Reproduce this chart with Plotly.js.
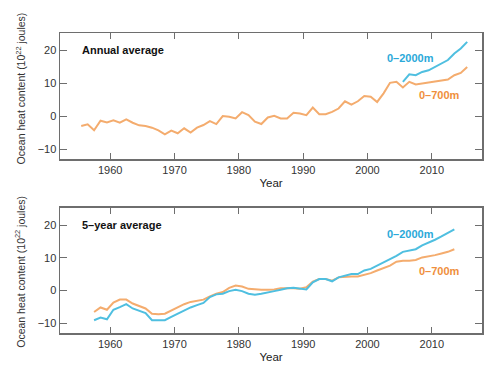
<!DOCTYPE html>
<html>
<head>
<meta charset="utf-8">
<script src="https://cdn.plot.ly/plotly-3.0.1.min.js"></script>
<style>html,body{margin:0;padding:0;background:#fff}#chart{width:500px;height:377px}</style>
</head>
<body>
<div id="chart"></div>
<script>
// ---- Data (10^22 joules) ----
var annualYears = [1955,1956,1957,1958,1959,1960,1961,1962,1963,1964,1965,1966,1967,1968,1969,1970,
  1971,1972,1973,1974,1975,1976,1977,1978,1979,1980,1981,1982,1983,1984,1985,1986,1987,1988,1989,1990,
  1991,1992,1993,1994,1995,1996,1997,1998,1999,2000,2001,2002,2003,2004,2005,2006,2007,2008,2009,2010,
  2011,2012,2013,2014,2015];
var annual700 = [-3.0,-2.5,-4.3,-1.4,-1.9,-1.3,-2.0,-1.0,-2.0,-2.8,-3.0,-3.5,-4.3,-5.5,-4.4,-5.2,
  -3.7,-5.0,-3.5,-2.7,-1.5,-2.4,0.0,-0.2,-0.7,1.2,0.3,-1.7,-2.4,-0.4,0.1,-0.7,-0.7,1.0,0.8,0.3,
  2.6,0.6,0.6,1.3,2.3,4.5,3.5,4.5,6.1,5.9,4.3,6.9,10.1,10.4,8.7,10.4,9.6,9.9,10.1,10.3,
  10.6,11.1,12.4,13.1,14.9];
var annual2000Years = [2005,2006,2007,2008,2009,2010,2011,2012,2013,2014,2015];
var annual2000 = [10.4,12.7,12.4,13.4,13.9,14.9,16.0,17.0,19.0,20.5,22.5];

var pentadYears = [1957,1958,1959,1960,1961,1962,1963,1964,1965,1966,1967,1968,1969,1970,
  1971,1972,1973,1974,1975,1976,1977,1978,1979,1980,1981,1982,1983,1984,1985,1986,1987,1988,1989,1990,
  1991,1992,1993,1994,1995,1996,1997,1998,1999,2000,2001,2002,2003,2004,2005,2006,2007,2008,2009,2010,
  2011,2012,2013];
var pentad700 = [-6.6,-5.2,-5.9,-3.7,-2.8,-2.8,-4.0,-4.7,-5.5,-7.1,-7.3,-7.1,-6.1,-5.1,
  -4.2,-3.5,-3.2,-2.8,-1.8,-1.0,-0.5,0.8,1.5,1.2,0.5,0.3,0.2,0.2,0.3,0.7,0.8,0.7,0.5,1.0,
  2.7,3.5,3.5,3.0,4.0,4.2,4.3,4.3,4.7,5.3,6.1,6.8,7.6,8.8,9.1,9.1,9.3,10.1,10.4,10.8,
  11.3,11.8,12.6];
var pentad2000 = [-9.1,-8.3,-8.8,-5.9,-5.1,-4.2,-5.5,-6.3,-6.9,-9.1,-9.1,-9.1,-8.1,-7.1,
  -6.3,-5.2,-4.5,-3.8,-2.0,-1.2,-1.0,-0.2,0.2,-0.2,-1.0,-1.3,-1.0,-0.7,-0.2,0.2,0.7,0.8,0.5,0.3,
  2.5,3.5,3.5,2.8,4.0,4.5,5.0,5.0,6.1,6.6,7.6,8.4,9.4,10.6,11.8,12.1,12.6,13.8,14.6,15.5,
  16.5,17.5,18.7];

var xTicks = [1960,1970,1980,1990,2000,2010];
var yTicks = [-10,0,10,20];
var panelTitles = ['Annual average','5\u2013year average'];
var seriesNames = ['0\u20132000m','0\u2013700m'];
var yTitle = 'Ocean heat content (10<sup>22</sup> joules)';
var xTitle = 'Year';

// values are plotted at mid-year
function mid(a){ return a.map(function(v){ return v + 0.5; }); }

var ORANGE = '#f4ac6e', BLUE = '#4fbfe0';
var ORANGE_T = '#ef8f3c', BLUE_T = '#2ba9d9';

var traces = [
  {x: mid(annualYears), y: annual700, xaxis:'x', yaxis:'y', type:'scatter', mode:'lines',
   line:{color:ORANGE, width:2}, name:seriesNames[1]},
  {x: mid(annual2000Years), y: annual2000, xaxis:'x', yaxis:'y', type:'scatter', mode:'lines',
   line:{color:BLUE, width:2}, name:seriesNames[0]},
  {x: mid(pentadYears), y: pentad700, xaxis:'x2', yaxis:'y2', type:'scatter', mode:'lines',
   line:{color:ORANGE, width:2}, name:seriesNames[1]},
  {x: mid(pentadYears), y: pentad2000, xaxis:'x2', yaxis:'y2', type:'scatter', mode:'lines',
   line:{color:BLUE, width:2}, name:seriesNames[0]}
];

var FONT = '"Liberation Sans", Arial, sans-serif';
var frame = '#6e6e6e';
function xax(anchor){
  return {anchor:anchor, range:[1952.2,2017.8], tickvals:xTicks, ticks:'inside', ticklen:6,
    tickcolor:frame, showline:true, linecolor:frame, linewidth:1.5, mirror:'ticks', showgrid:false,
    zeroline:false, tickfont:{size:11, color:'#333', family:FONT},
    title:{text:xTitle, font:{size:11.5, color:'#222', family:FONT}, standoff:4}};
}
function yax(anchor, dom){
  return {anchor:anchor, domain:dom, range:[-13,25.2], tickvals:yTicks, ticks:'inside', ticklen:7,
    tickcolor:frame, showline:true, linecolor:frame, linewidth:1.5, mirror:'ticks', showgrid:false,
    zeroline:false, tickfont:{size:11, color:'#333', family:FONT}};
}

var ann = [];
function lab(text, xr, yr, x, y, color, anchor, size, angle, xshift){
  ann.push({text:text, xref:xr, yref:yr, x:x, y:y, showarrow:false, xanchor:anchor||'center', yanchor:'middle',
    textangle: angle||0, xshift: xshift||0, font:{size:size||11, color:color, family:FONT}});
}
lab('<b>'+panelTitles[0]+'</b>', 'x domain', 'y domain', 0.047, 0.865, '#111', 'left');
lab('<b>'+panelTitles[1]+'</b>', 'x2 domain', 'y2 domain', 0.047, 0.864, '#111', 'left');
lab('<b>'+seriesNames[0]+'</b>', 'x', 'y', 2006.7, 17.6, BLUE_T);
lab('<b>'+seriesNames[1]+'</b>', 'x', 'y', 2011.2, 6.4, ORANGE_T);
lab('<b>'+seriesNames[0]+'</b>', 'x2', 'y2', 2006.7, 17.3, BLUE_T);
lab('<b>'+seriesNames[1]+'</b>', 'x2', 'y2', 2011.2, 6.1, ORANGE_T);
// y-axis titles (rotated), placed left of the tick labels
lab(yTitle, 'paper', 'y domain', 0, 0.56, '#333', 'center', 10.5, -90, -40);
lab(yTitle, 'paper', 'y2 domain', 0, 0.49, '#333', 'center', 10.5, -90, -40);

var layout = {
  width:500, height:377, margin:{l:60, r:18, t:33, b:44},
  paper_bgcolor:'#fff', plot_bgcolor:'#fff', showlegend:false,
  font:{family:FONT},
  xaxis: xax('y'), yaxis: yax('x',[0.58,1.0]),
  xaxis2: xax('y2'), yaxis2: yax('x2',[0,0.4167]),
  annotations: ann
};

Plotly.newPlot('chart', traces, layout, {displayModeBar:false, staticPlot:true});
</script>
</body>
</html>
